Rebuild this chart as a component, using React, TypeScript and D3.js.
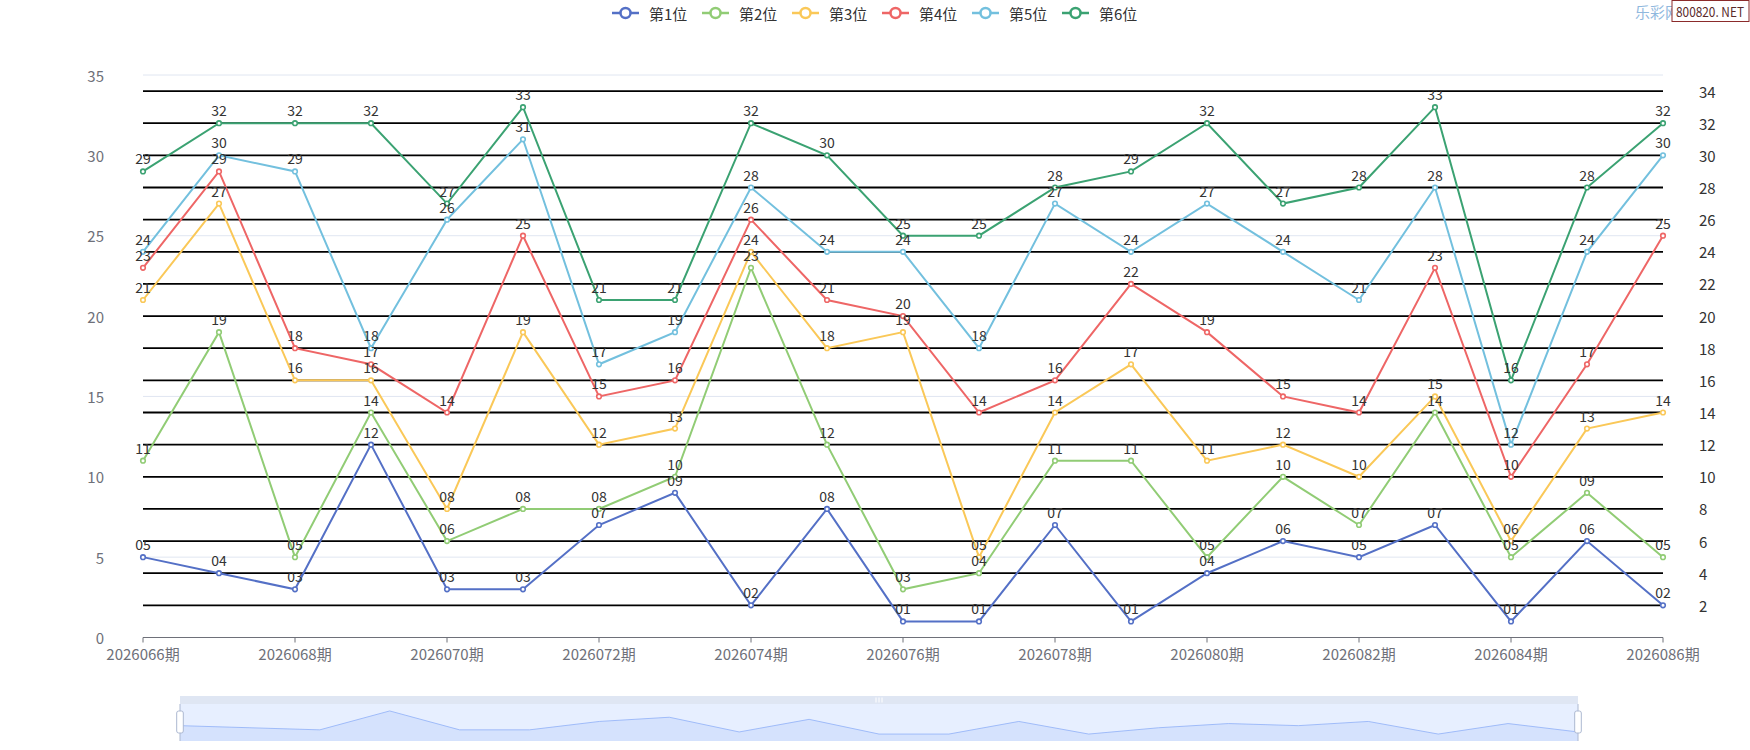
import React from "react"
import * as d3 from "d3"

const periods = [
  "2026066期", "2026067期", "2026068期", "2026069期", "2026070期", "2026071期", "2026072期",
  "2026073期", "2026074期", "2026075期", "2026076期", "2026077期", "2026078期", "2026079期",
  "2026080期", "2026081期", "2026082期", "2026083期", "2026084期", "2026085期", "2026086期",
]

const seriesNames = ["第1位", "第2位", "第3位", "第4位", "第5位", "第6位"]
const seriesColors = ["#5470c6", "#91cc75", "#fac858", "#ee6666", "#73c0de", "#3ba272"]

const pos1 = [5, 4, 3, 12, 3, 3, 7, 9, 2, 8, 1, 1, 7, 1, 4, 6, 5, 7, 1, 6, 2]
const pos2 = [11, 19, 5, 14, 6, 8, 8, 10, 23, 12, 3, 4, 11, 11, 5, 10, 7, 14, 5, 9, 5]
const pos3 = [21, 27, 16, 16, 8, 19, 12, 13, 24, 18, 19, 5, 14, 17, 11, 12, 10, 15, 6, 13, 14]
const pos4 = [23, 29, 18, 17, 14, 25, 15, 16, 26, 21, 20, 14, 16, 22, 19, 15, 14, 23, 10, 17, 25]
const pos5 = [24, 30, 29, 18, 26, 31, 17, 19, 28, 24, 24, 18, 27, 24, 27, 24, 21, 28, 12, 24, 30]
const pos6 = [29, 32, 32, 32, 27, 33, 21, 21, 32, 30, 25, 25, 28, 29, 32, 27, 28, 33, 16, 28, 32]

const leftTicks = [0, 5, 10, 15, 20, 25, 30, 35]
const rightTicks = [2, 4, 6, 8, 10, 12, 14, 16, 18, 20, 22, 24, 26, 28, 30, 32, 34]

const allSeries = [pos1, pos2, pos3, pos4, pos5, pos6]

const FONT = '"Noto Sans CJK SC", "Noto Sans", sans-serif'
const W = 1750
const H = 750

// plot area
const X0 = 143
const X1 = 1663
const Y0 = 637.5
const Y1 = 75

// slider
const SX0 = 180
const SX1 = 1578
const STOP = 696
const SBAND = 704
const SBOT = 741

const fmt = d3.format("02d")

export default function App() {
  const x = d3.scalePoint<string>().domain(periods).range([X0, X1])
  const y = d3.scaleLinear().domain([0, 35]).range([Y0, Y1])

  const line = d3
    .line<number>()
    .x((_, i) => x(periods[i]) as number)
    .y((d) => y(d))

  // data shadow of the slider (ECharts pads the extent by 30%)
  const [mn, mx] = d3.extent(pos1) as [number, number]
  const pad = (mx - mn) * 0.3
  const sx = d3.scalePoint<string>().domain(periods).range([SX0, SX1])
  const sy = d3.scaleLinear().domain([mn - pad, mx + pad]).range([SBOT, SBAND])
  const shadowArea = d3
    .area<number>()
    .x((_, i) => sx(periods[i]) as number)
    .y0(SBOT)
    .y1((d) => sy(d))
  const shadowLine = d3
    .line<number>()
    .x((_, i) => sx(periods[i]) as number)
    .y((d) => sy(d))

  const legendStart = 612
  const legendStep = 90

  return (
    <svg
      width={W}
      height={H}
      style={{ position: "absolute", left: 0, top: 0, background: "#fff" }}
      fontFamily={FONT}
    >
      {/* legend */}
      {seriesNames.map((name, i) => {
        const lx = legendStart + i * legendStep
        return (
          <g key={name}>
            <line x1={lx} x2={lx + 27} y1={13} y2={13} stroke={seriesColors[i]} strokeWidth={2.5} />
            <circle cx={lx + 13.5} cy={13} r={5} fill="#fff" stroke={seriesColors[i]} strokeWidth={2.5} />
            <text x={lx + 37} y={13} dominantBaseline="central" fontSize={15} fill="#333">
              {name}
            </text>
          </g>
        )
      })}

      {/* watermark */}
      <text x={1635} y={11} dominantBaseline="central" fontSize={15} fill="#8fb8de">
        乐彩网
      </text>
      <rect x={1672} y={0.5} width={77} height={21} fill="#fff" stroke="#8b2b2b" strokeWidth={1} />
      <text
        x={1676}
        y={11.5}
        dominantBaseline="central"
        fontSize={13}
        fill="#5a2a2a"
        textLength={68}
        lengthAdjust="spacingAndGlyphs"
      >
        800820. NET
      </text>

      {/* left axis grid */}
      {leftTicks.slice(1).map((t) => (
        <line key={t} x1={X0} x2={X1} y1={y(t)} y2={y(t)} stroke="#E0E6F1" strokeWidth={1} />
      ))}
      {leftTicks.map((t) => (
        <text key={t} x={104} y={y(t)} textAnchor="end" dominantBaseline="central" fontSize={15} fill="#6E7079">
          {t}
        </text>
      ))}

      {/* right axis split lines (black) */}
      {rightTicks.map((t) => (
        <line key={t} x1={X0} x2={X1} y1={y(t)} y2={y(t)} stroke="#000" strokeWidth={1.8} />
      ))}
      {rightTicks.map((t) => (
        <text key={t} x={1699} y={y(t)} dominantBaseline="central" fontSize={15} fill="#333">
          {t}
        </text>
      ))}

      {/* x axis */}
      <line x1={X0} x2={X1} y1={Y0} y2={Y0} stroke="#6E7079" strokeWidth={1} />
      {periods.map((p, i) =>
        i % 2 === 0 ? (
          <g key={p}>
            <line x1={x(p)} x2={x(p)} y1={Y0} y2={Y0 + 5} stroke="#6E7079" strokeWidth={1} />
            <text x={x(p)} y={653} textAnchor="middle" dominantBaseline="central" fontSize={15} fill="#6E7079">
              {p}
            </text>
          </g>
        ) : null
      )}

      {/* series */}
      {allSeries.map((data, si) => (
        <g key={si}>
          <path d={line(data) as string} fill="none" stroke={seriesColors[si]} strokeWidth={2} />
          {data.map((v, i) => (
            <circle
              key={i}
              cx={x(periods[i])}
              cy={y(v)}
              r={2.3}
              fill="#fff"
              stroke={seriesColors[si]}
              strokeWidth={1.6}
            />
          ))}
        </g>
      ))}
      {allSeries.map((data, si) => (
        <g key={"l" + si}>
          {data.map((v, i) => (
            <text key={i} x={x(periods[i])} y={y(v) - 7} textAnchor="middle" fontSize={14} fill="#333">
              {fmt(v)}
            </text>
          ))}
        </g>
      ))}

      {/* data zoom slider */}
      <rect x={SX0} y={STOP} width={SX1 - SX0} height={SBAND - STOP} fill="#D2DBEE" fillOpacity={0.7} />
      <rect x={SX0} y={SBAND} width={SX1 - SX0} height={SBOT - SBAND} fill="rgb(135,175,254)" fillOpacity={0.2} />
      <path d={shadowArea(pos1) as string} fill="#8fb0f7" fillOpacity={0.2} />
      <path d={shadowLine(pos1) as string} fill="none" stroke="#8fb0f7" strokeWidth={0.8} />
      <g stroke="#fff" strokeWidth={1}>
        <line x1={876} x2={876} y1={697.5} y2={702.5} />
        <line x1={879} x2={879} y1={697.5} y2={702.5} />
        <line x1={882} x2={882} y1={697.5} y2={702.5} />
      </g>
      {[SX0, SX1].map((hx) => (
        <g key={hx}>
          <line x1={hx} x2={hx} y1={SBAND} y2={SBOT} stroke="#ACB8D1" strokeWidth={1} />
          <rect x={hx - 3.3} y={711} width={6.6} height={22} rx={2} fill="#fff" stroke="#ACB8D1" strokeWidth={1} />
        </g>
      ))}
    </svg>
  )
}
